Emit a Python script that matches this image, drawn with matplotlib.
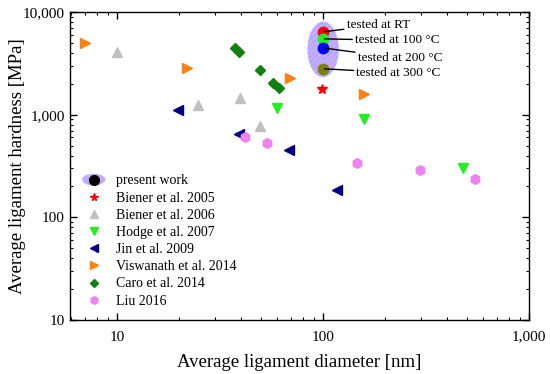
import numpy as np
import matplotlib
matplotlib.use('Agg')
import matplotlib.pyplot as plt
from matplotlib.patches import Ellipse
from matplotlib.lines import Line2D
from matplotlib.legend_handler import HandlerPatch, HandlerTuple
from matplotlib.ticker import FuncFormatter, NullFormatter

plt.rcParams['font.family'] = ['Liberation Serif', 'DejaVu Serif']
plt.rcParams['hatch.linewidth'] = 1.0

# data (ligament diameter nm, hardness MPa)
biener05_x = [99]
biener05_y = [1790]
biener06_x = [10, 24.7, 39.5, 49.5]
biener06_y = [4090, 1250, 1460, 780]
hodge_x = [60, 158, 479]
hodge_y = [1170, 915, 300]
jin_x = [19.8, 39, 68, 117]
jin_y = [1120, 655, 457, 183]
visw_x = [7.0, 21.9, 69, 158]
visw_y = [5000, 2860, 2290, 1600]
caro_x = [37.4, 39, 49.5, 57, 61]
caro_y = [4470, 4090, 2730, 2050, 1830]
liu_x = [42, 53.5, 146, 296, 547]
liu_y = [611, 535, 342, 292, 234]

present_x = [100, 100, 100, 100]
present_y = [6400, 5470, 4470, 2800]
present_labels = ['tested at RT', 'tested at 100 °C', 'tested at 200 °C', 'tested at 300 °C']
present_colors = ['#ff0000', '#22ee22', '#0000ff', '#808000']

fig = plt.figure(figsize=(5.5, 3.74), dpi=100)
ax = fig.add_axes([0.127, 0.144, 0.835, 0.824])
ax.set_xscale('log')
ax.set_yscale('log')
ax.set_xlim(5.9, 1000)
ax.set_ylim(10, 10000)

ms = 7
ax.plot(biener05_x, biener05_y, ls='none', marker='*', color='red', ms=7, label='Biener et al. 2005')
ax.plot(biener06_x, biener06_y, ls='none', marker='^', color='#c0c0c0', ms=ms, label='Biener et al. 2006')
ax.plot(hodge_x, hodge_y, ls='none', marker='v', color='#22ee22', ms=ms, label='Hodge et al. 2007')
ax.plot(jin_x, jin_y, ls='none', marker='<', color='#000080', ms=ms, label='Jin et al. 2009')
ax.plot(visw_x, visw_y, ls='none', marker='>', color='#ff8010', ms=ms, label='Viswanath et al. 2014')
ax.plot(caro_x, caro_y, ls='none', marker='D', color='#108010', ms=5.5, label='Caro et al. 2014')
ax.plot(liu_x, liu_y, ls='none', marker='h', color='#ee82ee', ms=ms, label='Liu 2016')

# hatched ellipse around present work, sized in axes fraction
cx, cy = (ax.transScale + ax.transLimits).transform((100, np.sqrt(present_y[0] * present_y[-1]) * 1.02))
ell = Ellipse((cx, cy), 0.068, 0.18, transform=ax.transAxes, facecolor='#9cc3ff',
              edgecolor='#ff80ff', hatch='//////', lw=0, zorder=2)
ax.add_patch(ell)
for x, y, c in zip(present_x, present_y, present_colors):
    ax.plot(x, y, ls='none', marker='o', color=c, ms=7.5, zorder=4)

offsets = [(17, 5), (23, -1), (25, -7.5), (24, -3)]
for x, y, lab, off in zip(present_x, present_y, present_labels, offsets):
    ax.annotate(lab, xy=(x, y), xytext=off, textcoords='offset points', ha='left', va='center',
                fontsize=9.5, arrowprops=dict(arrowstyle='-', color='k', lw=1, shrinkA=0, shrinkB=1),
                zorder=5)

fmt = FuncFormatter(lambda v, _: f'{v:,.0f}')
for axis in (ax.xaxis, ax.yaxis):
    axis.set_major_formatter(fmt)
    axis.set_minor_formatter(NullFormatter())
ax.tick_params(which='both', direction='in', top=True, right=True, labelsize=11)
ax.tick_params(which='major', length=5, width=1)
ax.tick_params(which='minor', length=2.5, width=0.8)
ax.tick_params(axis='x', which='major', pad=7.5)
for s in ax.spines.values():
    s.set_linewidth(1)

ax.set_xlabel('Average ligament diameter [nm]', fontsize=13.5, labelpad=7.5)
ax.set_ylabel('Average ligament hardness [MPa]', fontsize=13.5, labelpad=-2)


def make_ellipse(legend, orig_handle, xdescent, ydescent, width, height, fontsize):
    return Ellipse((width / 2 - xdescent, height / 2 - ydescent), width * 1.0, height * 1.2)


leg_ell = Ellipse((0, 0), 1, 1, facecolor='#9cc3ff', edgecolor='#ff80ff', hatch='//////', lw=0)
leg_dot = Line2D([], [], ls='none', marker='o', color='black', ms=9)
handles, labels = ax.get_legend_handles_labels()
handles = [(leg_ell, leg_dot)] + handles
labels = ['present work'] + labels
ax.legend(handles, labels, loc='lower left', bbox_to_anchor=(0.0, 0.0), frameon=False,
          fontsize=10, handlelength=1.65, handletextpad=0.8, labelspacing=0.3, markerscale=0.78,
          handler_map={tuple: HandlerTuple(ndivide=1, pad=0),
                       Ellipse: HandlerPatch(patch_func=make_ellipse)})

fig.savefig('out.png', dpi=100)
